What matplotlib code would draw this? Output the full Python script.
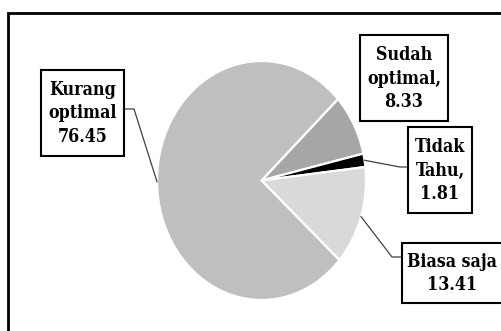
import numpy as np
import matplotlib.pyplot as plt
from matplotlib.patches import Rectangle
from matplotlib.lines import Line2D
from matplotlib import font_manager

# ── Data ───────────────────────────────────────────────────────────────────────
categories = ["Sudah optimal", "Tidak Tahu", "Biasa saja", "Kurang optimal"]
values     = [8.33, 1.81, 13.41, 76.45]
label_text = ["Sudah\noptimal,\n8.33", "Tidak\nTahu,\n1.81",
              "Biasa saja\n13.41", "Kurang\noptimal\n76.45"]
colors     = ["#a6a6a6", "#000000", "#d9d9d9", "#bfbfbf"]

W, H = 501, 331
fig = plt.figure(figsize=(W / 100, H / 100), dpi=100)

# bold condensed serif stands in for Cambria
fp = font_manager.FontProperties(family="DejaVu Serif", stretch="condensed",
                                 weight="bold", size=12.8)

# outer chart border (runs off the right/bottom of the image)
fig.patches.append(Rectangle((7.5 / W, -0.05), 1.2, 1 - 12.5 / H + 0.05,
                             transform=fig.transFigure, fill=False,
                             edgecolor="black", linewidth=2))

# pie axes, stretched a bit vertically like the original
ax = fig.add_axes([157 / W, (H - 300) / H, 209 / W, 239 / H])
wedges, _ = ax.pie(values, colors=colors, startangle=43, counterclock=False,
                   wedgeprops=dict(edgecolor="white", linewidth=1.6))
ax.set_aspect("auto")
ax.set_xlim(-1, 1)
ax.set_ylim(-1, 1)
ax.axis("off")

# label boxes in pixel coords (x0, y0_top, x1, y1_bottom)
boxes = [(360, 35, 448, 121), (408, 127, 472, 213),
         (402, 243, 520, 303), (41, 70, 124, 156)]
# leader lines: elbow point and end point (pixels), None = no leader
leaders = [None, ((400, 167), (408, 167)),
           ((392, 257), (402, 257)), ((134, 109), (124, 109))]
text_x = [404, 440, 452, 82.5]


def px(x, y):
    return x / W, 1 - y / H


fig.canvas.draw()
for i, w in enumerate(wedges):
    x0, y0, x1, y1 = boxes[i]
    fig.patches.append(Rectangle(px(x0, y1), (x1 - x0) / W, (y1 - y0) / H,
                                 transform=fig.transFigure, facecolor="white",
                                 edgecolor="black", linewidth=1.5, zorder=3))
    fig.text(*px(text_x[i], (y0 + y1) / 2 + 0.5), label_text[i], ha="center",
             va="center", fontproperties=fp, linespacing=1.42, zorder=4)
    if leaders[i] is not None:
        mid = np.deg2rad((w.theta1 + w.theta2) / 2)
        sx, sy = ax.transData.transform((np.cos(mid), np.sin(mid)))
        (ex, ey), (bx, by) = leaders[i]
        xs = [sx / W, ex / W, bx / W]
        ys = [sy / H, 1 - ey / H, 1 - by / H]
        fig.lines.append(Line2D(xs, ys, transform=fig.transFigure,
                                color="#404040", linewidth=0.9, zorder=2))

fig.savefig("out.png", dpi=100)
